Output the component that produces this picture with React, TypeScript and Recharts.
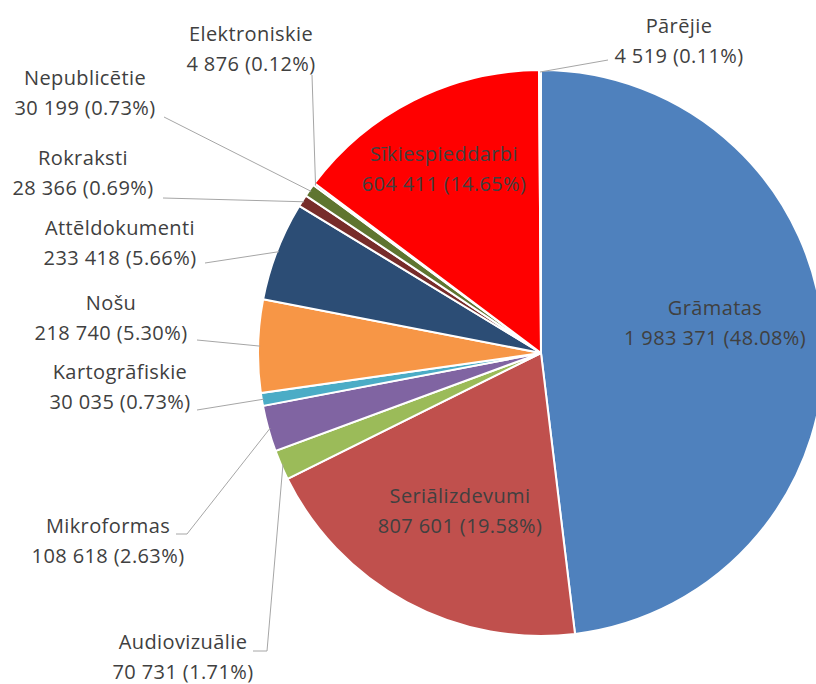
import React from 'react';
import { PieChart, Pie, Cell } from 'recharts';

const categories = [
  'Grāmatas',
  'Seriālizdevumi',
  'Audiovizuālie',
  'Mikroformas',
  'Kartogrāfiskie',
  'Nošu',
  'Attēldokumenti',
  'Rokraksti',
  'Nepublicētie',
  'Elektroniskie',
  'Sīkiespieddarbi',
  'Pārējie',
];

const values = [1983371, 807601, 70731, 108618, 30035, 218740, 233418, 28366, 30199, 4876, 604411, 4519];

const colors = [
  '#4F81BD', '#C0504D', '#9BBB59', '#8064A2', '#4BACC6', '#F79646',
  '#2C4D75', '#772C2A', '#5F7530', '#4D3B62', '#FF0000', '#FAC090',
];

const data = categories.map((name, i) => ({ name, value: values[i] }));

// label placement relative to the pie centre: text (first line), line end, optional elbow
type LabelPos = { tx: number; ty: number; inside?: boolean; ex?: number; ey?: number; bx?: number; by?: number };
const labelPos: LabelPos[] = [
  { tx: 174, ty: -46, inside: true },
  { tx: -81, ty: 142, inside: true },
  { tx: -358, ty: 288, ex: -288, ey: 298, bx: -274, by: 298 },
  { tx: -433, ty: 172, ex: -365, ey: 181, bx: -354, by: 181 },
  { tx: -421, ty: 18, ex: -344, ey: 57 },
  { tx: -430, ty: -51, ex: -344, ey: -13 },
  { tx: -421, ty: -126, ex: -336, ey: -90 },
  { tx: -458, ty: -196, ex: -378, ey: -155 },
  { tx: -456, ty: -276, ex: -377, ey: -236 },
  { tx: -290, ty: -320, ex: -229, ey: -278 },
  { tx: -97, ty: -200, inside: true },
  { tx: 138, ty: -328, ex: 67, ey: -293 },
];

const RAD = Math.PI / 180;
const fmt = (v: number) => String(v).replace(/\B(?=(\d{3})+(?!\d))/g, ' ');

const renderLabel = (props: any) => {
  const { cx, cy, midAngle, outerRadius, index, percent, value } = props;
  const p = labelPos[index];
  const x = cx + p.tx;
  const y = cy + p.ty;
  const text = `${fmt(value)} (${(percent * 100).toFixed(2)}%)`;
  let line = null;
  if (!p.inside && p.ex !== undefined) {
    const sx = cx + (outerRadius - 2) * Math.cos(-midAngle * RAD);
    const sy = cy + (outerRadius - 2) * Math.sin(-midAngle * RAD);
    const pts = [`${sx},${sy}`];
    if (p.bx !== undefined) pts.push(`${cx + p.bx},${cy + p.by}`);
    pts.push(`${cx + p.ex},${cy + p.ey}`);
    line = <polyline points={pts.join(' ')} fill="none" stroke="#A6A6A6" strokeWidth={1} />;
  }
  return (
    <g key={`lbl-${index}`}>
      {line}
      <text x={x} y={y} textAnchor="middle" dominantBaseline="central" fill="#404040"
        fontFamily="'Open Sans', sans-serif" fontSize={20} letterSpacing={0.4}>
        <tspan x={x} y={y}>{categories[index]}</tspan>
        <tspan x={x} y={y + 30}>{text}</tspan>
      </text>
    </g>
  );
};

export default function App() {
  return (
    <div style={{ position: 'fixed', left: 0, top: 0, width: 816, height: 684, background: '#fff' }}>
      <PieChart width={816} height={684} margin={{ top: 0, right: 0, bottom: 0, left: 0 }}>
        <Pie
          data={data}
          dataKey="value"
          nameKey="name"
          cx={541}
          cy={353}
          outerRadius={283}
          startAngle={90}
          endAngle={-270}
          stroke="#fff"
          strokeWidth={2}
          label={renderLabel}
          labelLine={false}
          isAnimationActive={false}
        >
          {data.map((d, i) => (
            <Cell key={d.name} fill={colors[i]} />
          ))}
        </Pie>
      </PieChart>
    </div>
  );
}
